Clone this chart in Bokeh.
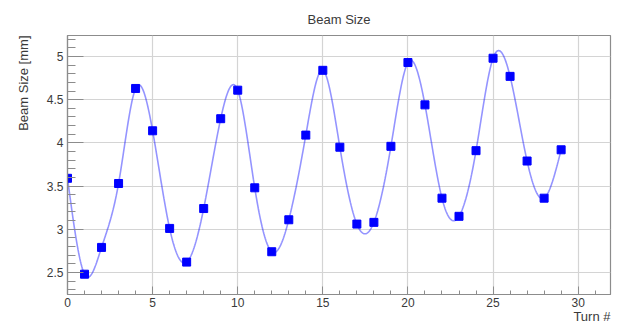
import numpy as np
from bokeh.plotting import figure
from bokeh.models import Title, SingleIntervalTicker, NumeralTickFormatter
from bokeh.embed import file_html
from bokeh.resources import INLINE

# ---- data ----
turns = list(range(30))
beam_size = [3.59, 2.48, 2.79, 3.53, 4.63, 4.14, 3.01, 2.62, 3.24, 4.28,
             4.61, 3.48, 2.74, 3.11, 4.09, 4.84, 3.95, 3.06, 3.08, 3.96,
             4.93, 4.44, 3.36, 3.15, 3.91, 4.98, 4.77, 3.79, 3.36, 3.92]
title_text = "Beam Size"
x_title = "Turn #"
y_title = "Beam Size [mm]"

# ---- smooth curve through the points (natural cubic spline) ----
def natural_spline(x, y, n=800):
    x = np.asarray(x, float); y = np.asarray(y, float)
    m = len(x)
    h = np.diff(x)
    A = np.zeros((m, m)); r = np.zeros(m)
    A[0, 0] = 1; A[-1, -1] = 1
    for i in range(1, m - 1):
        A[i, i - 1] = h[i - 1]
        A[i, i] = 2 * (h[i - 1] + h[i])
        A[i, i + 1] = h[i]
        r[i] = 3 * ((y[i + 1] - y[i]) / h[i] - (y[i] - y[i - 1]) / h[i - 1])
    c = np.linalg.solve(A, r)
    b = (y[1:] - y[:-1]) / h - h * (2 * c[:-1] + c[1:]) / 3
    d = (c[1:] - c[:-1]) / (3 * h)
    xs = np.linspace(x[0], x[-1], n)
    idx = np.clip(np.searchsorted(x, xs) - 1, 0, m - 2)
    dx = xs - x[idx]
    ys = y[idx] + b[idx] * dx + c[idx] * dx ** 2 + d[idx] * dx ** 3
    return xs, ys

sx, sy = natural_spline(turns, beam_size)

FONT = "Liberation Sans"
TXT = "#3a3a3a"

p = figure(width=617, height=326, x_range=(0, 31.9), y_range=(2.245, 5.243),
           output_backend="svg", toolbar_location=None,
           min_border_left=67, min_border_right=7, min_border_top=35,
           min_border_bottom=32, background_fill_color="white",
           border_fill_color="white")

p.title.text = title_text
p.title.align = "center"
p.title.text_font = FONT
p.title.text_font_size = "13px"
p.title.text_font_style = "normal"
p.title.text_color = TXT
p.title.standoff = 17

p.add_layout(Title(text=x_title, align="right", text_font=FONT,
                   text_font_size="13px", text_font_style="normal",
                   text_color=TXT, standoff=-6), "below")
p.add_layout(Title(text=y_title, align="right", text_font=FONT,
                   text_font_size="13px", text_font_style="normal",
                   text_color=TXT, standoff=26), "left")

p.outline_line_color = "#8c8c8c"
p.outline_line_width = 1.2

# grid
for g in (p.xgrid, p.ygrid):
    g.grid_line_color = "#d4d4d4"
    g.grid_line_width = 1.2

# x axis
p.xaxis.ticker = SingleIntervalTicker(interval=5, num_minor_ticks=5)
p.xaxis.major_tick_in = 8
p.xaxis.major_tick_out = 0
p.xaxis.minor_tick_in = 4
p.xaxis.minor_tick_out = 0
p.xaxis.major_label_standoff = 3

# y axis
p.yaxis.ticker = SingleIntervalTicker(interval=0.5, num_minor_ticks=5)
p.yaxis.formatter = NumeralTickFormatter(format="0.[0]")
p.yaxis.major_tick_in = 16
p.yaxis.major_tick_out = 0
p.yaxis.minor_tick_in = 8
p.yaxis.minor_tick_out = 0
p.yaxis.major_label_standoff = 4

for ax in (p.xaxis[0], p.yaxis[0]):
    ax.axis_line_color = "#8c8c8c"
    ax.axis_line_width = 1.2
    ax.major_tick_line_color = "#8c8c8c"
    ax.minor_tick_line_color = "#8c8c8c"
    ax.major_label_text_font = FONT
    ax.major_label_text_font_size = "12px"
    ax.major_label_text_color = TXT

p.line(sx, sy, line_color="#0000ff", line_alpha=0.42, line_width=1.6)
p.scatter(turns, beam_size, marker="square", size=8,
          fill_color="#0000ff", line_color="#0000ff")

open("out.html", "w").write(file_html(p, INLINE))
